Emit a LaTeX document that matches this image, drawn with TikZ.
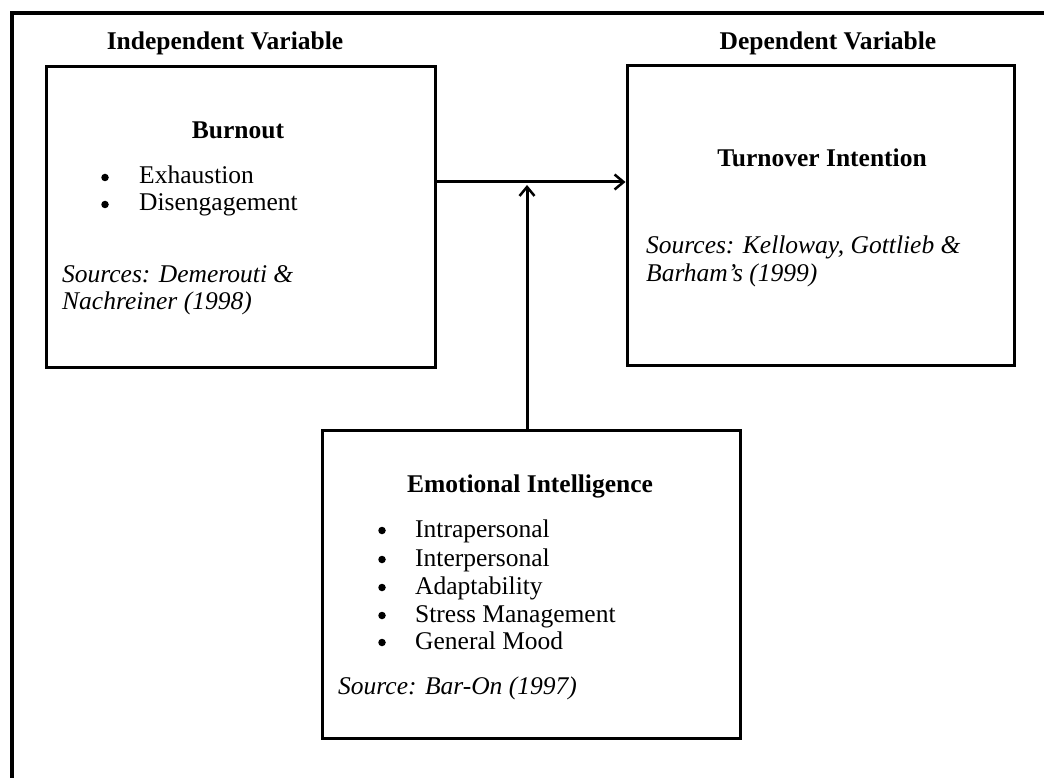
\documentclass[tikz,border=0pt]{standalone}
\usepackage{fontspec}
\setmainfont{Liberation Serif}
\usetikzlibrary{arrows.meta}
\begin{document}
\begin{tikzpicture}[x=1pt,y=-1pt,
  box/.style={draw,line width=3pt,rectangle,inner sep=0pt},
  txt/.style={inner sep=0pt,anchor=base,font=\fontsize{25.5}{30}\selectfont},
  head/.style={txt,font=\fontsize{25.5}{30}\selectfont\bfseries},
  item/.style={txt,anchor=base west},
  src/.style={txt,anchor=base west,font=\fontsize{25.5}{30}\selectfont\itshape},
  bul/.style={circle,fill,inner sep=0pt,minimum size=7.5pt},
  arr/.style={line width=3pt,-{Straight Barb[length=9pt,width=15pt,line width=2.5pt]}}]
\useasboundingbox (0,0) rectangle (1044,778);
\fill[white] (0,0) rectangle (1044,778);
% outer frame
\draw[line width=4pt,line join=miter] (11.5,790) -- (11.5,13) -- (1050,13);
% headers
\node[head] (indep) at (225,50) {Independent Variable};
\node[head] (dep) at (828,50) {Dependent Variable};
% boxes
\node[box,minimum width=389pt,minimum height=300pt] (burnout) at (240.5,217) {};
\node[box,minimum width=387pt,minimum height=299pt] (turnover) at (820.5,215.5) {};
\node[box,minimum width=418pt,minimum height=308pt] (ei) at (531,584) {};
% burnout contents
\node[head] (bt) at (238,139) {Burnout};
\node[bul] (b1) at (105,177.5) {};
\node[item] (b1t) at (139,184) {Exhaustion};
\node[bul] (b2) at (105,204.5) {};
\node[item] (b2t) at (139,211) {Disengagement};
\node[src] (bs1) at (62,282) {Sources: Demerouti \&};
\node[src] (bs2) at (62,309) {Nachreiner (1998)};
% turnover contents
\node[head] (tt) at (822,167) {Turnover Intention};
\node[src] (ts1) at (646,253) {Sources: Kelloway, Gottlieb \&};
\node[src] (ts2) at (646,281) {Barham’s (1999)};
% EI contents
\node[head] (et) at (530,492) {Emotional Intelligence};
\node[bul] (e1) at (382,530.5) {};
\node[item] (e1t) at (415,537) {Intrapersonal};
\node[bul] (e2) at (382,559.5) {};
\node[item] (e2t) at (415,566) {Interpersonal};
\node[bul] (e3) at (382,587.5) {};
\node[item] (e3t) at (415,594) {Adaptability};
\node[bul] (e4) at (382,615.5) {};
\node[item] (e4t) at (415,622) {Stress Management};
\node[bul] (e5) at (382,642.5) {};
\node[item] (e5t) at (415,649) {General Mood};
\node[src] (es) at (338,694) {Source: Bar-On (1997)};
% connectors
\coordinate (hline) at (530,182);
\coordinate (vx) at (527,185);
\draw[arr] (burnout.east |- hline) -- (turnover.west |- hline);
\draw[arr] (ei.north -| vx) -- (vx);
\end{tikzpicture}
\end{document}
